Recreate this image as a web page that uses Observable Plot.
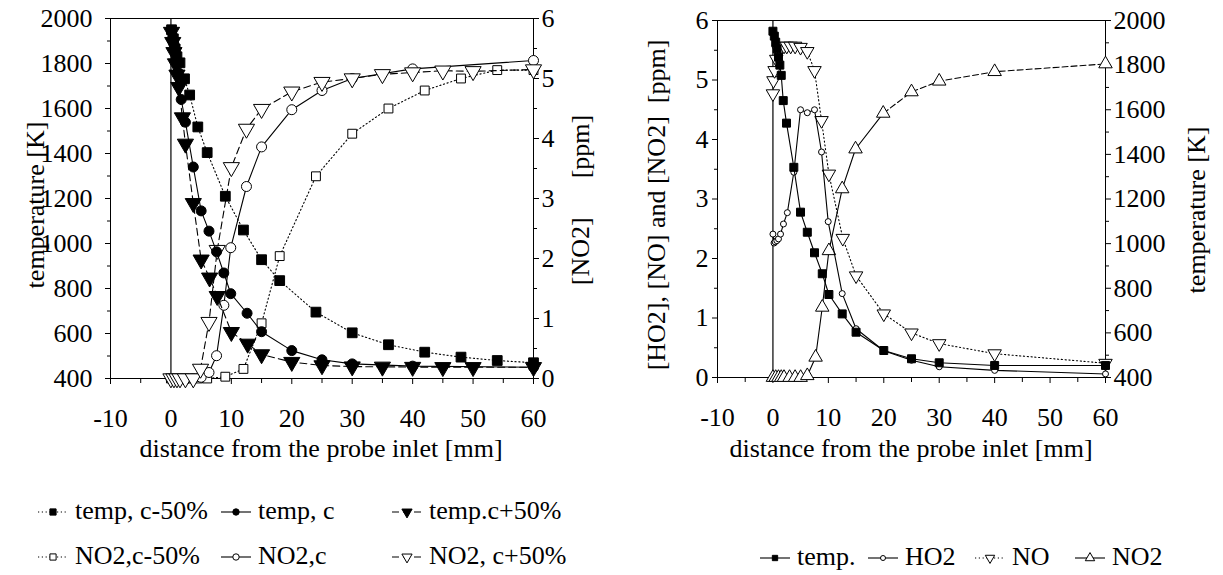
<!DOCTYPE html>
<html><head><meta charset="utf-8">
<script src="https://cdn.jsdelivr.net/npm/d3@7"></script>
<script src="https://cdn.jsdelivr.net/npm/@observablehq/plot@0.6"></script>
<style>
body{margin:0;background:#fff;}
#root{position:relative;width:1223px;height:575px;overflow:hidden;font-family:"Liberation Serif","Times New Roman",serif;color:#000;background:#fff;}
.lab{position:absolute;font-size:26px;white-space:pre;line-height:1;}
.rot{transform:translate(-50%,-50%) rotate(-90deg);}
.ctr{transform:translate(-50%,0);}
.leg{position:absolute;font-size:26px;white-space:pre;line-height:1;}
.sym{position:absolute;}
</style></head><body><div id="root"></div>
<script>
// ---------- Left panel data ----------
const xTempLo = [0.1, 0.4, 0.7, 1.0, 1.5, 2.25, 3.1, 4.45, 6, 9, 12, 15, 18, 24, 30, 36, 42, 48, 54, 60];
const tempLo  = [1950, 1910, 1865, 1830, 1803, 1732, 1660, 1518, 1404, 1210, 1060, 928, 835, 695, 603, 550, 517, 495, 480, 470];
const xTempC  = [0.1, 0.3, 0.5, 0.7, 0.9, 1.2, 1.7, 2.4, 3.7, 5.0, 6.3, 7.55, 8.75, 9.9, 12.6, 15, 20, 25, 30, 40, 60];
const tempC   = [1945, 1915, 1885, 1850, 1815, 1760, 1640, 1539, 1340, 1145, 1055, 963, 869, 777, 690, 608, 524, 483, 465, 455, 450];
const xTempHi = [0.1, 0.3, 0.5, 0.75, 1.0, 1.3, 1.9, 2.4, 3.7, 5.0, 6.4, 7.66, 10, 12.7, 15, 20, 25, 30, 35, 40, 45, 50, 60];
const tempHi  = [1940, 1895, 1850, 1800, 1750, 1695, 1560, 1443, 1179, 928, 848, 766, 606, 554, 507, 473, 458, 453, 452, 451, 450, 450, 450];
const xNo2Lo  = [0, 0.5, 1, 1.5, 2.25, 3, 4.5, 6, 9, 12, 15, 18, 24, 30, 36, 42, 48, 54, 60];
const no2Lo   = [0, 0, 0, 0, 0, 0, 0, 0, 0.03, 0.16, 0.92, 2.04, 3.37, 4.08, 4.5, 4.8, 5.0, 5.14, 5.14];
const xNo2C   = [0, 0.5, 1, 1.5, 2.5, 3.7, 5.0, 6.3, 7.55, 8.76, 9.9, 12.5, 15, 20, 25, 30, 40, 60];
const no2C    = [0, 0, 0, 0, 0, 0, 0.02, 0.1, 0.38, 1.22, 2.18, 3.2, 3.86, 4.48, 4.8, 5.0, 5.16, 5.3];
const xNo2Hi  = [0, 0.5, 1, 1.5, 2.4, 3.7, 4.9, 6.3, 7.66, 10, 12.5, 15, 20, 25, 30, 35, 40, 45, 50, 60];
const no2Hi   = [0, 0, 0, 0, 0, 0, 0.16, 0.94, 2.14, 3.52, 4.16, 4.49, 4.78, 4.94, 5.0, 5.07, 5.1, 5.13, 5.12, 5.15];

// ---------- Right panel data ----------
const xTemp = [0, 0.25, 0.5, 0.75, 1.0, 1.25, 1.5, 1.86, 2.45, 3.77, 4.98, 6.2, 7.5, 8.9, 10.1, 12.5, 15, 20, 25, 30, 40, 60];
const temp  = [1952, 1930, 1903, 1873, 1836, 1800, 1754, 1641, 1540, 1342, 1141, 1051, 959, 865, 772, 685, 603, 521, 484, 466, 454, 454];
const xHO2  = [0, 0.2, 0.4, 0.7, 1.0, 1.37, 1.9, 2.6, 3.77, 4.98, 6.2, 7.5, 8.77, 9.97, 12.5, 15, 20, 25, 30, 40, 60];
const ho2   = [2.41, 2.26, 2.28, 2.3, 2.33, 2.41, 2.58, 2.77, 3.45, 4.5, 4.45, 4.5, 3.79, 2.62, 1.41, 0.82, 0.45, 0.29, 0.18, 0.12, 0.06];
const xNO   = [0, 0.1, 0.3, 0.6, 1.0, 1.5, 2.0, 2.5, 3.2, 4.0, 4.98, 6.2, 7.5, 8.77, 10.1, 12.6, 15, 20, 25, 30, 40, 60];
const no    = [4.77, 4.99, 5.16, 5.35, 5.5, 5.55, 5.57, 5.57, 5.57, 5.57, 5.55, 5.48, 5.16, 4.32, 3.42, 2.34, 1.71, 1.07, 0.75, 0.57, 0.4, 0.24];
const xNO2  = [0, 0.5, 1, 1.5, 2, 3, 4, 5, 6.2, 7.7, 8.9, 10.1, 12.5, 14.9, 19.9, 25, 30, 40, 60];
const no2   = [0, 0, 0, 0, 0, 0, 0, 0, 0.03, 0.34, 1.18, 2.13, 3.17, 3.84, 4.44, 4.8, 4.98, 5.14, 5.27];

// ---------- tick labels / legend names ----------
const xTicks = [-10, 0, 10, 20, 30, 40, 50, 60];
const tempTicks = [400, 600, 800, 1000, 1200, 1400, 1600, 1800, 2000];
const ppmTicks = [0, 1, 2, 3, 4, 5, 6];
const legLeftNames = [["temp, c-50%", "temp, c", "temp.c+50%"], ["NO2,c-50%", "NO2,c", "NO2, c+50%"]];
const legRightNames = ["temp.", "HO2", "NO", "NO2"];

const zip = (xs, ys) => xs.map((x, i) => ({x, y: ys[i]}));
const ppmToT = p => 400 + p * 1600 / 6;
const tToPpm = t => (t - 400) * 6 / 1600;

const DOT = "1.2,2.6", DASH = "7,4";
const root = document.getElementById("root");
const style = {fontFamily: '"Liberation Serif","Times New Roman",serif', fontSize: "26px", color: "black", background: "transparent", overflow: "visible"};

function commonAxes(yTicksMain, yMinor, yFmt, rightTicks, rightMinor, rightFmt, lp, rp) {
  return [
    Plot.frame({stroke: "black", strokeWidth: 1}),
    Plot.axisX({ticks: xTicks, tickSize: 6, tickPadding: 24, label: null, tickFormat: d => String(d)}),
    Plot.axisX({ticks: d3.range(-5, 60, 10), tickSize: 5, label: null, tickFormat: () => ""}),
    Plot.axisY({ticks: yTicksMain, tickSize: 5, tickPadding: lp, label: null, tickFormat: yFmt}),
    Plot.axisY({ticks: yMinor, tickSize: 3, label: null, tickFormat: () => ""}),
    Plot.axisY({anchor: "right", ticks: rightTicks, tickSize: 5, tickPadding: rp, label: null, tickFormat: rightFmt}),
    Plot.axisY({anchor: "right", ticks: rightMinor, tickSize: 3, label: null, tickFormat: () => ""}),
    Plot.ruleX([0], {stroke: "black", strokeWidth: 1.2})
  ];
}

function series(data, y, dash, symbol, fill, r, rotate = 0, sw = 1.1) {
  return [
    Plot.line(data, {x: "x", y, stroke: "black", strokeWidth: sw, strokeDasharray: dash}),
    Plot.dot(data, {x: "x", y, symbol, r, fill, stroke: "black", strokeWidth: 1, rotate})
  ];
}

// ---------- Left plot ----------
const left = Plot.plot({
  width: 600, height: 470, marginLeft: 110, marginRight: 67, marginTop: 18, marginBottom: 92,
  style,
  x: {domain: [-10, 60]},
  y: {domain: [400, 2000]},
  marks: [
    ...commonAxes(tempTicks, d3.range(500, 2000, 200), d => String(d),
      ppmTicks.map(ppmToT), ppmTicks.slice(0, 6).map(p => ppmToT(p + 0.5)), t => String(Math.round(tToPpm(t))), 13, 3),
    ...series(zip(xNo2Lo, no2Lo), d => ppmToT(d.y), DOT, "square", "white", 5),
    ...series(zip(xNo2C, no2C), d => ppmToT(d.y), null, "circle", "white", 5),
    ...series(zip(xNo2Hi, no2Hi), d => ppmToT(d.y), DASH, "triangle", "white", 6, 180),
    ...series(zip(xTempLo, tempLo), "y", DOT, "square", "black", 5.5),
    ...series(zip(xTempC, tempC), "y", null, "circle", "black", 5),
    ...series(zip(xTempHi, tempHi), "y", DASH, "triangle", "black", 6, 180)
  ]
});
left.style.position = "absolute"; left.style.left = "0px"; left.style.top = "0px";
root.appendChild(left);

// ---------- Right plot ----------
const no2Data = zip(xNO2, no2);
const right = Plot.plot({
  width: 623, height: 470, marginLeft: 117, marginRight: 118, marginTop: 20, marginBottom: 93,
  style,
  x: {domain: [-10, 60]},
  y: {domain: [0, 6]},
  marks: [
    ...commonAxes(ppmTicks, d3.range(0.5, 6, 1), d => String(d),
      tempTicks.map(tToPpm), d3.range(500, 2000, 200).map(tToPpm), p => String(Math.round(ppmToT(p))), 4, 3),
    Plot.line(no2Data.filter(d => d.x <= 20), {x: "x", y: "y", stroke: "black", strokeWidth: 1.1}),
    Plot.line(no2Data.filter(d => d.x >= 19), {x: "x", y: "y", stroke: "black", strokeWidth: 1.1, strokeDasharray: "6,3"}),
    Plot.dot(no2Data, {x: "x", y: "y", symbol: "triangle", r: 5, fill: "white", stroke: "black", strokeWidth: 1}),
    ...series(zip(xNO, no), "y", DOT, "triangle", "white", 5, 180),
    ...series(zip(xHO2, ho2), "y", null, "circle", "white", 3),
    ...series(zip(xTemp, temp), d => tToPpm(d.y), null, "square", "black", 4.5)
  ]
});
right.style.position = "absolute"; right.style.left = "600px"; right.style.top = "0px";
root.appendChild(right);

// ---------- axis titles ----------
function label(text, x, y, cls) {
  const d = document.createElement("div");
  d.className = "lab " + cls;
  d.textContent = text;
  d.style.left = x + "px"; d.style.top = y + "px";
  root.appendChild(d);
}
label("temperature [K]", 36, 205, "rot");
label("[NO2]      [ppm]", 581, 200, "rot");
label("[HO2], [NO] and [NO2]  [ppm]", 657, 205, "rot");
label("temperature [K]", 1197, 210, "rot");
label("distance from the probe inlet [mm]", 321, 436, "ctr");
label("distance from the probe inlet [mm]", 911, 436, "ctr");

// ---------- legends ----------
function legendItem(x, yMid, text, dash, symbol, fill, r, rotate = 0) {
  const w = 30, h = 20;
  const ns = "http://www.w3.org/2000/svg";
  const svg = document.createElementNS(ns, "svg");
  svg.setAttribute("width", w); svg.setAttribute("height", h);
  svg.setAttribute("class", "sym");
  svg.style.left = x + "px"; svg.style.top = (yMid - h / 2) + "px";
  const ln = document.createElementNS(ns, "line");
  ln.setAttribute("x1", 0); ln.setAttribute("x2", w); ln.setAttribute("y1", h / 2); ln.setAttribute("y2", h / 2);
  ln.setAttribute("stroke", "black"); ln.setAttribute("stroke-width", 1.1);
  if (dash) ln.setAttribute("stroke-dasharray", dash);
  svg.appendChild(ln);
  const p = document.createElementNS(ns, "path");
  const sym = {square: d3.symbolSquare, circle: d3.symbolCircle, triangle: d3.symbolTriangle}[symbol];
  p.setAttribute("d", d3.symbol(sym, Math.PI * r * r)());
  p.setAttribute("transform", `translate(${w / 2},${h / 2}) rotate(${rotate})`);
  p.setAttribute("fill", fill); p.setAttribute("stroke", "black"); p.setAttribute("stroke-width", 1);
  svg.appendChild(p);
  root.appendChild(svg);
  const t = document.createElement("div");
  t.className = "leg"; t.textContent = text;
  t.style.left = (x + w + 7) + "px"; t.style.top = (yMid - 14) + "px";
  root.appendChild(t);
}
const r1 = 512, r2 = 557;
legendItem(38, r1, legLeftNames[0][0], DOT, "square", "black", 3.5);
legendItem(221, r1, legLeftNames[0][1], null, "circle", "black", 3.2);
legendItem(392, r1, legLeftNames[0][2], DASH, "triangle", "black", 3.8, 180);
legendItem(38, r2, legLeftNames[1][0], DOT, "square", "white", 3.5);
legendItem(221, r2, legLeftNames[1][1], null, "circle", "white", 3.2);
legendItem(392, r2, legLeftNames[1][2], DASH, "triangle", "white", 3.8, 180);
const rr = 558;
legendItem(760, rr, legRightNames[0], null, "square", "black", 3);
legendItem(868, rr, legRightNames[1], null, "circle", "white", 2.5);
legendItem(975, rr, legRightNames[2], DOT, "triangle", "white", 3.5, 180);
legendItem(1075, rr, legRightNames[3], null, "triangle", "white", 3.5);
</script></body></html>
